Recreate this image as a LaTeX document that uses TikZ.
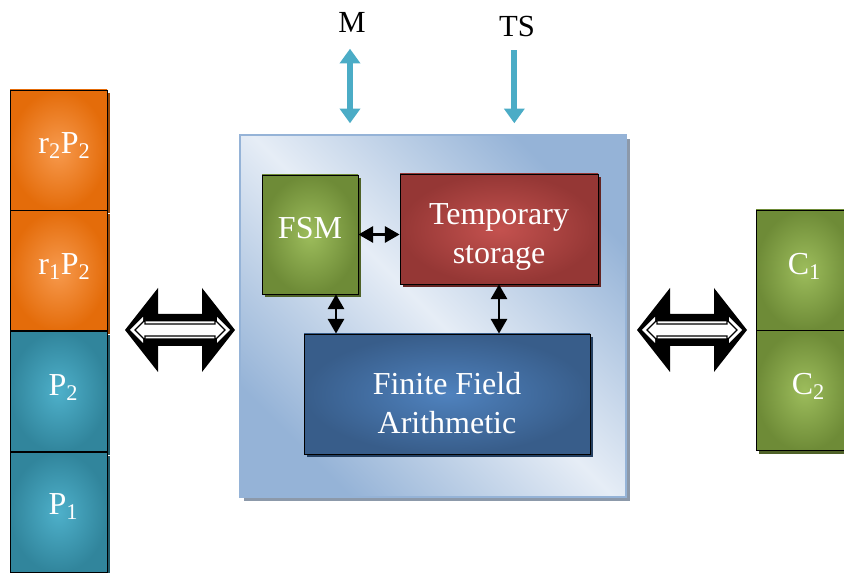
\documentclass[tikz,border=0pt]{standalone}
\usepackage{xcolor}
\usepackage{fontspec}
\setmainfont{Liberation Serif}
\usetikzlibrary{positioning, shadows, arrows.meta, calc}

\definecolor{orangeout}{HTML}{E46C0A}
\definecolor{orangein}{HTML}{F79A4E}
\definecolor{orangeshadow}{HTML}{984807}
\definecolor{tealout}{HTML}{31859C}
\definecolor{tealin}{HTML}{4EB0CA}
\definecolor{tealshadow}{HTML}{215968}
\definecolor{greenout}{HTML}{6E8B37}
\definecolor{greenin}{HTML}{9DBD5C}
\definecolor{greenshadow}{HTML}{4F6228}
\definecolor{redout}{HTML}{953735}
\definecolor{redin}{HTML}{C4524F}
\definecolor{redshadow}{HTML}{632523}
\definecolor{blueout}{HTML}{385D8A}
\definecolor{bluein}{HTML}{4F82BE}
\definecolor{blueshadow}{HTML}{243F60}
\definecolor{mainedge}{HTML}{95B3D7}
\definecolor{mainlight}{HTML}{E6EDF6}
\definecolor{mainshadow}{HTML}{8C99AA}
\definecolor{ioteal}{HTML}{4BACC6}

% big black double arrow with a white outlined arrow inside
\newcommand{\bigdblarrow}[1]{%
  \fill[black] (#1) ++(-55,0) -- ++(33,-42) -- ++(0,26) -- ++(44,0) -- ++(0,-26)
    -- ++(33,42) -- ++(-33,42) -- ++(0,-26) -- ++(-44,0) -- ++(0,26) -- cycle;
  \fill[white] (#1) ++(-50,0) -- ++(13,-13) -- ++(0,4.5) -- ++(74,0) -- ++(0,-4.5)
    -- ++(13,13) -- ++(-13,13) -- ++(0,-4.5) -- ++(-74,0) -- ++(0,4.5) -- cycle;
  \draw[black, line width=0.9pt, fill=white] (#1) ++(-45,0) -- ++(10,-10) -- ++(0,4) -- ++(70,0) -- ++(0,-4)
    -- ++(10,10) -- ++(-10,10) -- ++(0,-4) -- ++(-70,0) -- ++(0,4) -- cycle;
}

\begin{document}
\begin{tikzpicture}[x=0.75pt, y=-0.75pt]
    \tikzset{
        box/.style={rectangle, draw=black, line width=0.6pt},
        boxtext/.style={text=white, align=center, font=\fontsize{24}{29.5}\selectfont},
        stackbox/.style={box, minimum width=72.75pt, minimum height=90pt},
        orangebox/.style={stackbox, inner color=orangein, outer color=orangeout,
            drop shadow={shadow xshift=2.5pt, shadow yshift=-2.5pt, fill=orangeshadow, opacity=1}},
        tealbox/.style={stackbox, inner color=tealin, outer color=tealout,
            drop shadow={shadow xshift=2.5pt, shadow yshift=-2.5pt, fill=tealshadow, opacity=1}},
        greenbox/.style={box, inner color=greenin, outer color=greenout,
            drop shadow={shadow xshift=2.5pt, shadow yshift=-2.5pt, fill=greenshadow, opacity=1}},
        redbox/.style={box, inner color=redin, outer color=redout,
            drop shadow={shadow xshift=2.5pt, shadow yshift=-2.5pt, fill=redshadow, opacity=1}},
        bluebox/.style={box, inner color=bluein, outer color=blueout,
            drop shadow={shadow xshift=2.5pt, shadow yshift=-2.5pt, fill=blueshadow, opacity=1}},
        mainbox/.style={rectangle, draw=mainedge, line width=1.6pt,
            top color=mainedge, bottom color=mainedge, middle color=mainlight, shading angle=-45,
            drop shadow={shadow xshift=3pt, shadow yshift=-3pt, fill=mainshadow, opacity=1}},
        label/.style={font=\fontsize{23}{27}\selectfont},
        link/.style={line width=2pt, {Triangle[length=11pt, width=12pt]}-{Triangle[length=11pt, width=12pt]}},
        ioarrow/.style={ioteal, line width=4.5pt}
    }
    \useasboundingbox (0,0) rectangle (844,573);

    % left stack
    \node (rtwo) [orangebox] at (58.5,150) {};
    \node (rone) [orangebox, below=0pt of rtwo] {};
    \node (ptwo) [tealbox, below=0pt of rone] {};
    \node (pone) [tealbox, below=0pt of ptwo] {};
    \node (rtwotext) [boxtext] at ($(rtwo)+(6,-4)$) {r\textsubscript{2}P\textsubscript{2}};
    \node (ronetext) [boxtext] at ($(rone)+(6,-4)$) {r\textsubscript{1}P\textsubscript{2}};
    \node (ptwotext) [boxtext] at ($(ptwo)+(5,-4)$) {P\textsubscript{2}};
    \node (ponetext) [boxtext] at ($(pone)+(5,-6)$) {P\textsubscript{1}};

    % main block
    \node (main) [mainbox, minimum width=289.5pt, minimum height=271.5pt] at (433,316) {};
    \node (fsm) [greenbox, minimum width=72pt, minimum height=89.25pt] at (310,234.5) {};
    \node (temp) [redbox, minimum width=148.5pt, minimum height=82.5pt] at (499,229) {};
    \node (ffa) [bluebox, minimum width=214.5pt, minimum height=90pt] at (447,394) {};
    \node (fsmtext) [boxtext] at ($(fsm)+(0,-6)$) {FSM};
    \node (temptext) [boxtext] at ($(temp)+(0,8)$) {Temporary\\storage};
    \node (ffatext) [boxtext] at ($(ffa)+(0,9)$) {Finite Field\\Arithmetic};

    % right stack
    \node (cone) [greenbox, minimum width=72.75pt, minimum height=90pt] at (804.5,270) {};
    \node (ctwo) [greenbox, minimum width=72.75pt, minimum height=90pt, below=0pt of cone] {};
    \node (conetext) [boxtext] at ($(cone)+(0,-4)$) {C\textsubscript{1}};
    \node (ctwotext) [boxtext] at ($(ctwo)+(4,-4)$) {C\textsubscript{2}};

    % inputs on top
    \node (m) [label] at (352,22) {M};
    \node (ts) [label] at (517,27) {TS};
    \draw[ioarrow, {Triangle[length=11pt, width=15pt]}-{Triangle[length=11pt, width=15pt]},
        shorten <=9pt, shorten >=8pt] ([xshift=-1.5pt]m.south) -- ([xshift=-1.5pt]m.south |- main.north);
    \draw[ioarrow, -{Triangle[length=11pt, width=15pt]}, shorten <=6pt, shorten >=8pt]
        ([xshift=-2pt]ts.south) -- ([xshift=-2pt]ts.south |- main.north);

    % inner links
    \draw[link] (fsm.east) -- (fsm.east -| temp.west);
    \coordinate (fsmdown) at ($(fsm.south)+(26,0)$);
    \draw[link] (fsmdown) -- (fsmdown |- ffa.north);
    \draw[link] (temp.south) -- (temp.south |- ffa.north);

    % big double arrows
    \coordinate (leftbus) at (180,330);
    \coordinate (rightbus) at (692,330);
    \bigdblarrow{leftbus}
    \bigdblarrow{rightbus}
\end{tikzpicture}
\end{document}
